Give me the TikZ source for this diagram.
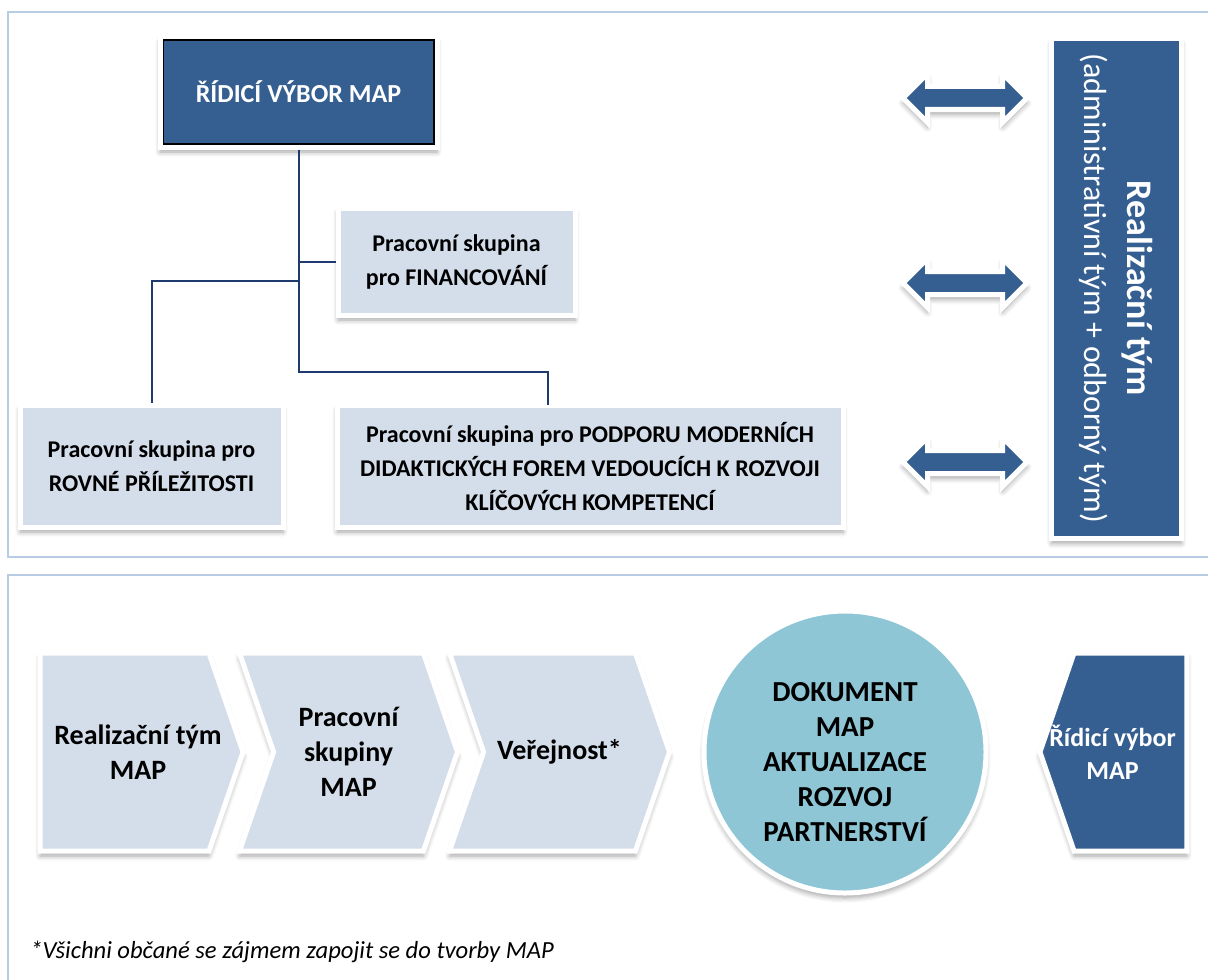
\documentclass[tikz,border=0pt]{standalone}
\usepackage{fontspec}
\setmainfont{Carlito}
\usepackage{tikz}
\usetikzlibrary{positioning,shapes.arrows,shapes.symbols,shadows.blur}

\definecolor{mapblue}{HTML}{365F91}
\definecolor{maplight}{HTML}{D4DEEB}
\definecolor{mapcircle}{HTML}{8EC6D5}
\definecolor{mapline}{HTML}{1F3A6E}
\definecolor{mapframe}{HTML}{B8CCE4}

\tikzset{
  glow/.style={draw=white, line width=2.5pt,
    blur shadow={shadow blur steps=6, shadow xshift=0pt, shadow yshift=-2.5pt,
      shadow blur radius=2.5pt, shadow opacity=35}},
  darkbox/.style={glow, fill=mapblue, text=white, align=center},
  lightbox/.style={glow, fill=maplight, align=center,
    font=\bfseries\fontsize{12}{17}\selectfont},
  chevron/.style={glow, fill=maplight, shape=signal, signal to=east,
    signal pointer angle=142, minimum height=99pt, inner sep=0pt},
  chevtext/.style={align=center, inner sep=0pt,
    font=\bfseries\fontsize{14}{17.5}\selectfont},
  twoway/.style={glow, fill=mapblue, shape=double arrow, minimum height=62pt,
    inner xsep=0pt, inner ysep=4.5pt, double arrow head extend=6.5pt},
  conn/.style={draw=mapline, line width=1pt}
}

\begin{document}
\begin{tikzpicture}[x=0.5pt,y=-0.5pt]

\useasboundingbox (0,0) rectangle (1208,979);

\draw[mapframe, line width=0.6pt] (8,12) rectangle (1220,557);

\draw[mapframe, line width=0.6pt] (8,575) rectangle (1220,990);

\node[darkbox, minimum width=138.5pt, minimum height=55pt,
  font=\bfseries\fontsize{13}{16}\selectfont,
  path picture={\draw[black, line width=3.6pt] (path picture bounding box.south west)
    rectangle (path picture bounding box.north east);}]
  (ridici) at (298.5,92) {ŘÍDICÍ VÝBOR MAP};

\node[lightbox, minimum width=118.5pt, minimum height=53.5pt] (fin) at (456.5,261.5)
  {Pracovní skupina\\pro FINANCOVÁNÍ};

\node[lightbox, minimum width=131.5pt, minimum height=61pt] (rovne) at (151.5,466)
  {Pracovní skupina pro\\ROVNÉ PŘÍLEŽITOSTI};

\node[lightbox, minimum width=253pt, minimum height=61pt] (podpora) at (590,466)
  {Pracovní skupina pro PODPORU MODERNÍCH\\DIDAKTICKÝCH FOREM VEDOUCÍCH K ROZVOJI\\KLÍČOVÝCH KOMPETENCÍ};

\coordinate (v1) at (298.5,281);
\coordinate (v2) at (298.5,372);
\coordinate (p1) at (548,405);

\draw[conn] (ridici.south) |- (fin.west);

\draw[conn] (v1) -| (rovne.north);

\draw[conn] (ridici.south) -- (v2) -| (p1);

\node[darkbox, rotate=-90, minimum width=250pt, minimum height=65pt,
  font=\fontsize{16}{21.5}\selectfont]
  (realiz) at (1116.5,288.5)
  {{\bfseries\fontsize{18}{21.5}\selectfont Realizační tým}\\(administrativní tým + odborný tým)};

\node[twoway] (a1) at (965,98) {};
\node[twoway] (a2) at (965,283) {};
\node[twoway] (a3) at (965,462) {};

\node[chevron, minimum width=101.5pt,
  label={[chevtext, xshift=6.75pt]center:Realizační tým\\MAP}] (ch1) at (124.5,752) {};

\node[chevron, signal from=west, minimum width=109pt,
  label={[chevtext]center:Pracovní\\skupiny\\MAP}] (ch2) at (348.5,752) {};

\node[chevron, signal from=west, minimum width=110pt,
  label={[chevtext]center:Veřejnost*}] (ch3) at (559.5,752) {};

\node[glow, circle, fill=mapcircle, minimum size=141pt, inner sep=0pt,
  label={[align=center, yshift=-5pt, font=\bfseries\fontsize{14.5}{17.5}\selectfont]center:DOKUMENT\\MAP\\AKTUALIZACE\\ROZVOJ\\PARTNERSTVÍ}]
  (dok) at (845,752) {};

\node[darkbox, shape=signal, signal to=west, signal pointer angle=142,
  minimum width=73.5pt, minimum height=99pt, inner sep=0pt,
  label={[chevtext, text=white, xshift=-9pt, font=\bfseries\fontsize{13}{16.5}\selectfont]center:Řídicí výbor\\MAP}]
  (vybor) at (1130.5,752) {};

\node[anchor=west, inner sep=0pt, font=\itshape\fontsize{12.3}{14}\selectfont] (pozn) at (30,952)
  {*Všichni občané se zájmem zapojit se do tvorby MAP};

\end{tikzpicture}
\end{document}
